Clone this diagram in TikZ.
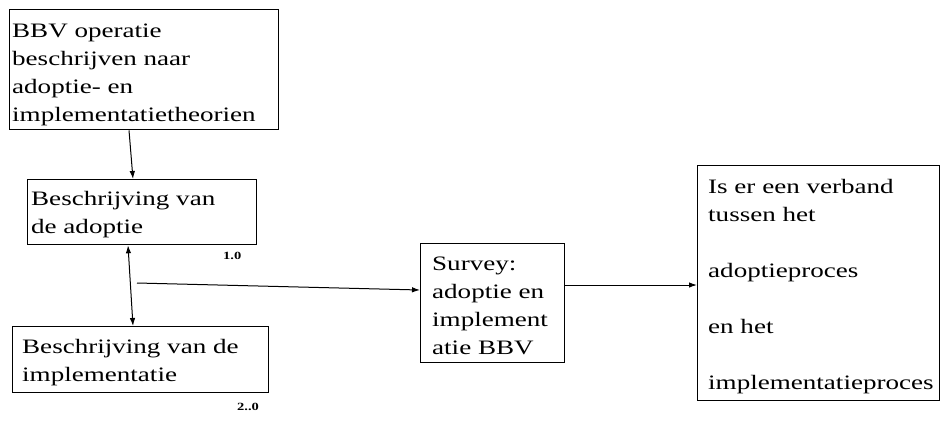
\documentclass[tikz,border=0pt]{standalone}
\usepackage{fontspec}
\setmainfont{Liberation Serif}[FakeStretch=1.32]
\usetikzlibrary{arrows.meta,calc}
\begin{document}
\begin{tikzpicture}[x=1pt,y=-1pt,
  frame/.style={draw=black, line width=1.3pt, inner sep=0pt, anchor=north west},
  boxtext/.style={anchor=north west, inner sep=0pt, align=left,
    font=\fontsize{20.5}{28}\selectfont},
  tag/.style={anchor=base west, inner sep=0pt, font=\fontsize{11}{13}\selectfont\bfseries},
  tip/.tip={Latex[length=8pt,width=5.5pt]},
  link/.style={line width=1pt, -tip},
  twoway/.style={line width=1pt, tip-tip}]
\useasboundingbox (0,0) rectangle (951,421);

% frames
\node[frame, minimum width=269pt, minimum height=120pt] (b1) at (9,9) {};
\node[frame, minimum width=229pt, minimum height=65pt]  (b2) at (27,179) {};
\node[frame, minimum width=256pt, minimum height=66pt]  (b3) at (12,326) {};
\node[frame, minimum width=144pt, minimum height=119pt] (b4) at (420,243) {};
\node[frame, minimum width=242pt, minimum height=235pt] (b5) at (697,165) {};

% texts (top = first baseline - 0.7 * 28pt)
\node[boxtext] (t1) at (12,17.4) {\strut BBV operatie\\beschrijven naar\\adoptie- en\\implementatietheorien};
\node[boxtext] (t2) at (31,185.4) {\strut Beschrijving van\\de adoptie};
\node[boxtext] (t3) at (22,333.4) {\strut Beschrijving van de\\implementatie};
\node[boxtext] (t4) at (432,250.4) {\strut Survey:\\adoptie en\\implement\\atie BBV};
\node[boxtext] (t5) at (708,173.4) {\strut Is er een verband\\tussen het\\[28pt]adoptieproces\\[28pt]en het\\[28pt]implementatieproces};

\node[tag] (n1) at (223,259) {1.0};
\node[tag] (n2) at (237,410) {2..0};

% connectors
\draw[link] ($(b1.south west)+(120,0)$) -- ($(b2.north west)+(106,0)$);
\draw[twoway] ($(b2.south west)+(101,0)$) -- ($(b3.north west)+(121,0)$);
\coordinate (c) at (137,283);
\draw[link] (c) -- ($(b4.north west)+(0,47)$);
\coordinate (s) at ($(b4.north east)+(0,42)$);
\draw[link] (s) -- (s -| b5.west);
\end{tikzpicture}
\end{document}
